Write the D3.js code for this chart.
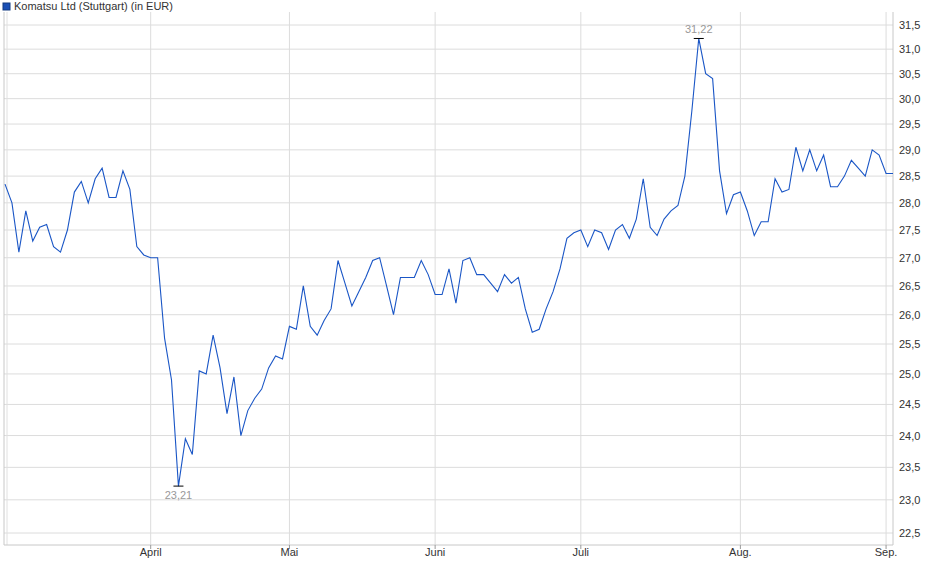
<!DOCTYPE html>
<html><head><meta charset="utf-8">
<script src="https://cdn.jsdelivr.net/npm/d3@7"></script>
<style>body{margin:0;background:#fff}text{font-family:"Liberation Sans",Arial,sans-serif}</style>
</head><body><svg id="c" width="940" height="579"></svg>
<script>
const title = "Komatsu Ltd (Stuttgart) (in EUR)";
const prices = [28.35,28.0,27.1,27.85,27.3,27.55,27.6,27.2,27.1,27.5,28.2,28.4,28.0,28.45,28.65,28.1,28.1,28.6,28.25,27.2,27.05,27.0,27.0,
25.6,24.9,23.21,23.95,23.7,25.05,25.0,25.65,25.1,24.35,24.95,24.0,24.4,24.6,24.75,25.1,25.3,25.25,25.8,25.75,26.5,
25.8,25.65,25.9,26.1,26.95,26.55,26.15,26.4,26.65,26.95,27.0,26.5,26.0,26.65,26.65,26.65,26.95,26.7,26.35,26.35,
26.8,26.2,26.95,27.0,26.7,26.7,26.55,26.4,26.7,26.55,26.65,26.1,25.7,25.75,26.1,26.4,26.8,27.35,27.45,27.5,27.2,
27.5,27.45,27.15,27.5,27.6,27.35,27.7,28.45,27.55,27.4,27.7,27.85,27.95,28.5,29.75,31.22,30.5,30.4,28.6,27.8,28.15,
28.2,27.85,27.4,27.65,27.65,28.45,28.2,28.25,29.05,28.6,29.0,28.6,28.9,28.3,28.3,28.5,28.8,28.65,28.5,29.0,28.9,28.55,28.55];
const monthLabels = ["April","Mai","Juni","Juli","Aug.","Sep."];
const monthIdx = [21,41,62,83,106,127];
const yTicks = [22.5,23,23.5,24,24.5,25,25.5,26,26.5,27,27.5,28,28.5,29,29.5,30,30.5,31,31.5];

const svg = d3.select("#c");
const L=4,R=893,T=12,B=545;
const x = d3.scaleLinear().domain([0,prices.length-1]).range([5,893]);
const y = d3.scaleLog().domain([22.5,31.5]).range([533,25]);
const fmt = v => d3.format(".1f")(v).replace(".",",");

const g = svg.append("g");
g.selectAll(".hg").data(yTicks).join("line")
 .attr("x1",L).attr("x2",R).attr("y1",d=>y(d)).attr("y2",d=>y(d)).attr("stroke","#dcdcdc");
g.selectAll(".vg").data(monthIdx).join("line")
 .attr("x1",d=>x(d)).attr("x2",d=>x(d)).attr("y1",T).attr("y2",B).attr("stroke","#dcdcdc");
g.append("line").attr("x1",L).attr("x2",L).attr("y1",T).attr("y2",B).attr("stroke","#c8c8c8");
g.append("line").attr("x1",7).attr("x2",7).attr("y1",T).attr("y2",B).attr("stroke","#e0e0e0");
g.append("line").attr("x1",R).attr("x2",R).attr("y1",T).attr("y2",B).attr("stroke","#c8c8c8");
g.append("line").attr("x1",L).attr("x2",R).attr("y1",B).attr("y2",B).attr("stroke","#c8c8c8");

g.selectAll(".yl").data(yTicks).join("text").attr("x",899).attr("y",d=>y(d)+4)
 .attr("font-size",11).attr("fill","#333").text(fmt);
g.selectAll(".xt").data(monthIdx).join("line").attr("x1",d=>x(d)).attr("x2",d=>x(d))
 .attr("y1",B).attr("y2",B+4).attr("stroke","#999");
g.selectAll(".xl").data(monthIdx).join("text").attr("x",d=>x(d)).attr("y",556)
 .attr("text-anchor","middle").attr("font-size",11).attr("fill","#333").text((d,i)=>monthLabels[i]);

g.append("path").datum(prices).attr("fill","none").attr("stroke","#1a56c6").attr("stroke-width",1.1)
 .attr("d",d3.line().x((d,i)=>x(i)).y(d=>y(d)));

const maxI = d3.maxIndex(prices), minI = d3.minIndex(prices);
[[maxI,-1],[minI,1]].forEach(([i,s])=>{
  g.append("line").attr("x1",x(i)-5).attr("x2",x(i)+5).attr("y1",y(prices[i])).attr("y2",y(prices[i])).attr("stroke","#000");
  g.append("text").attr("x",x(i)).attr("y",y(prices[i])+(s<0?-5:13)).attr("text-anchor","middle")
   .attr("font-size",11).attr("fill","#999").text(d3.format(".2f")(prices[i]).replace(".",","));
});

svg.append("rect").attr("x",3).attr("y",3).attr("width",7).attr("height",7).attr("fill","#1a4fb5").attr("stroke","#123a80");
svg.append("text").attr("x",14).attr("y",10).attr("font-size",11).attr("fill","#333").text(title);
</script></body></html>
